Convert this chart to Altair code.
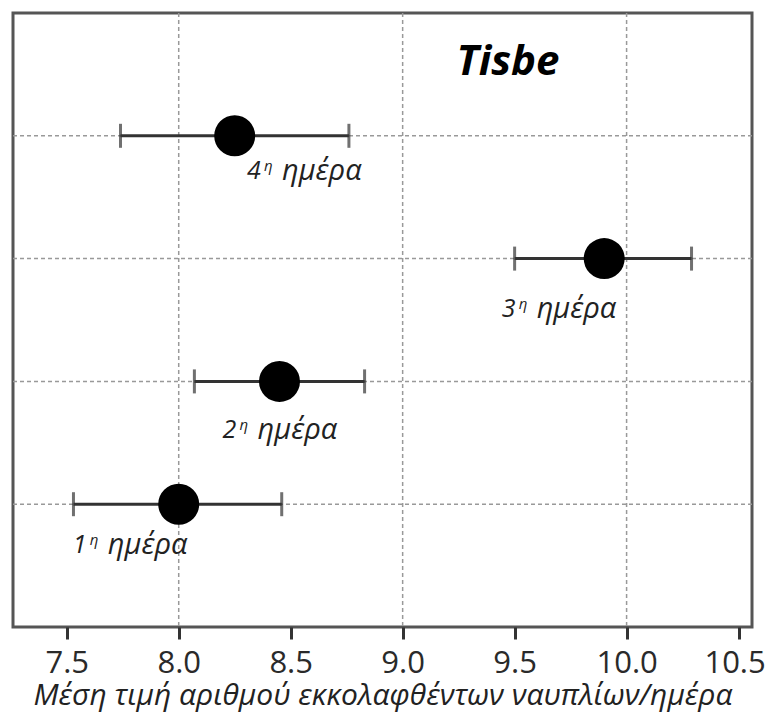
import altair as alt
import pandas as pd

# data
days = [4, 3, 2, 1]
means = [8.25, 9.90, 8.45, 8.00]
lows = [7.74, 9.50, 8.07, 7.53]
highs = [8.76, 10.29, 8.83, 8.46]

lab_num = ["4", "3", "2", "1"]
lab_x = [8.305, 9.442, 8.196, 7.527]
lab_y = [3.713, 2.59, 1.604, 0.668]

grid_x = [8.0, 9.0, 10.0]
tick_vals = [7.5, 8.0, 8.5, 9.0, 9.5, 10.0, 10.5]

title_txt = "Tisbe"
title_x = [9.47]
title_y = [4.6]

x_title = "Μέση τιμή αριθμού εκκολαφθέντων ναυπλίων/ημέρα"

df = pd.DataFrame({"day": days, "mean": means, "lo": lows, "hi": highs})
labs = pd.DataFrame({"num": lab_num, "lx": lab_x, "ly": lab_y})
gx = pd.DataFrame({"gx": grid_x})
tt = pd.DataFrame({"t": [title_txt], "tx": title_x, "ty": title_y})

xscale = alt.Scale(domain=[7.26, 10.56], nice=False, zero=False)
yscale = alt.Scale(domain=[0, 5], nice=False, zero=False)

xaxis = alt.Axis(values=tick_vals, format=".1f", grid=False, domain=False,
                 tickSize=12, tickWidth=3, tickColor="#333",
                 labelFont="Open Sans", labelFontSize=31, labelColor="#2a2a2a",
                 labelOffset=alt.ExprRef("datum.value >= 10.5 ? -4 : 0"),
                 labelPadding=9, title=x_title, titleFont="Open Sans",
                 titleFontSize=30, titleFontStyle="italic", titleFontWeight="normal",
                 titleColor="#222", titleBaseline="alphabetic", titleY=77)

base = alt.Chart(df)

vgrid = alt.Chart(gx).mark_rule(color="#999", strokeWidth=1.5, strokeDash=[4, 3]).encode(
    x=alt.X("gx:Q", scale=xscale, axis=xaxis)
)
hgrid = base.mark_rule(color="#999", strokeWidth=1.5, strokeDash=[4, 3]).encode(
    y=alt.Y("day:Q", scale=yscale, axis=None)
)
bars = base.mark_rule(color="#333", strokeWidth=3).encode(
    x=alt.X("lo:Q", scale=xscale), x2="hi:Q", y=alt.Y("day:Q", scale=yscale)
)
caps_lo = base.mark_tick(orient="vertical", size=24, thickness=3, color="#333").encode(
    x=alt.X("lo:Q", scale=xscale), y=alt.Y("day:Q", scale=yscale)
)
caps_hi = base.mark_tick(orient="vertical", size=24, thickness=3, color="#333").encode(
    x=alt.X("hi:Q", scale=xscale), y=alt.Y("day:Q", scale=yscale)
)
pts = base.mark_point(filled=True, shape="circle", size=1681, color="black", opacity=1).encode(
    x=alt.X("mean:Q", scale=xscale), y=alt.Y("day:Q", scale=yscale)
)

tfont = "Open Sans"
num_t = alt.Chart(labs).mark_text(align="left", baseline="middle", font=tfont,
                                  fontSize=25, fontStyle="italic", color="#222").encode(
    x=alt.X("lx:Q", scale=xscale), y=alt.Y("ly:Q", scale=yscale), text="num:N"
)
sup_t = alt.Chart(labs).mark_text(align="left", baseline="middle", font=tfont,
                                  fontSize=15, fontStyle="italic", color="#222",
                                  dx=17, dy=-5, text="η").encode(
    x=alt.X("lx:Q", scale=xscale), y=alt.Y("ly:Q", scale=yscale)
)
word_t = alt.Chart(labs).mark_text(align="left", baseline="middle", font=tfont,
                                   fontSize=29, fontStyle="italic", color="#222",
                                   dx=35, text="ημέρα").encode(
    x=alt.X("lx:Q", scale=xscale), y=alt.Y("ly:Q", scale=yscale)
)
title_t = alt.Chart(tt).mark_text(align="center", baseline="middle", font=tfont,
                                  fontSize=42, fontStyle="italic", fontWeight="bold",
                                  color="black").encode(
    x=alt.X("tx:Q", scale=xscale), y=alt.Y("ty:Q", scale=yscale), text="t:N"
)

chart = alt.layer(vgrid, hgrid, bars, caps_lo, caps_hi, pts, num_t, sup_t, word_t, title_t).properties(
    width=739, height=614,
    autosize=alt.AutoSizeParams(type="none"),
    padding={"left": 5, "top": 5, "right": 14, "bottom": 85},
).configure(background="white").configure_view(
    stroke="#555", strokeWidth=3
).configure_axis(grid=False)

chart.save("out.html", embed_options={"renderer": "svg", "actions": False})
